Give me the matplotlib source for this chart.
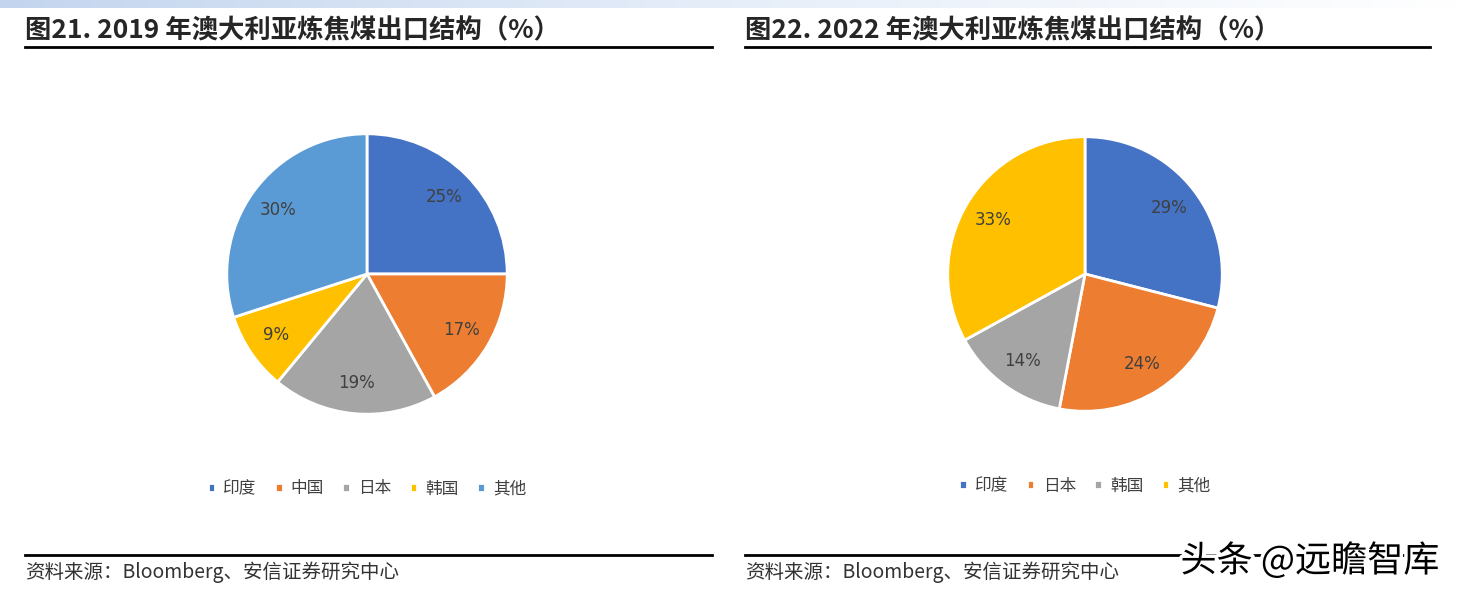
import matplotlib.pyplot as plt
import matplotlib.patheffects as pe
from matplotlib.colors import LinearSegmentedColormap
import numpy as np

plt.rcParams['font.family'] = ['Noto Sans CJK SC', 'DejaVu Sans']

# data
labels_2019 = ['印度', '中国', '日本', '韩国', '其他']
values_2019 = [25, 17, 19, 9, 30]
labels_2022 = ['印度', '日本', '韩国', '其他']
values_2022 = [29, 24, 14, 33]

col_2019 = ['#4472C4', '#ED7D31', '#A5A5A5', '#FFC000', '#5B9BD5']
col_2022 = ['#4472C4', '#ED7D31', '#A5A5A5', '#FFC000']

title_2019 = '图21. 2019 年澳大利亚炼焦煤出口结构（%）'
title_2022 = '图22. 2022 年澳大利亚炼焦煤出口结构（%）'
source = '资料来源：Bloomberg、安信证券研究中心'

W, H = 1462, 598
fig = plt.figure(figsize=(W / 100, H / 100), dpi=100)


def px_axes(x0, y0, w, h):
    # pixel box (top-left origin) -> figure axes
    return fig.add_axes([x0 / W, 1 - (y0 + h) / H, w / W, h / H])


# gradient band on top
bg = fig.add_axes([0, 1 - 8 / H, 1, 8 / H])
grad = np.linspace(0, 1, 256)[None, :]
cm = LinearSegmentedColormap.from_list('band', ['#c3d5ee', '#e6eef9', '#ffffff'])
bg.imshow(grad, aspect='auto', cmap=cm, extent=[0, 1, 0, 1])
bg.axis('off')


def panel(x_left, x_right, cx, cy, r, title, labels, values, colors, leg_y):
    fig.text(x_left / W, 1 - 31 / H, title, fontsize=19, fontweight='bold',
             color='#262626', va='center', ha='left')
    fig.add_artist(plt.Line2D([x_left / W, x_right / W], [1 - 47 / H, 1 - 47 / H],
                              color='black', lw=2))
    fig.add_artist(plt.Line2D([x_left / W, x_right / W], [1 - 555 / H, 1 - 555 / H],
                              color='black', lw=2))
    fig.text(x_left / W, 1 - 572 / H, source, fontsize=14,
             color='#333333', va='center', ha='left')

    ax = px_axes(cx - r, cy - r, 2 * r, 2 * r)
    wedges, texts, autotexts = ax.pie(
        values, colors=colors, startangle=90, counterclock=False,
        autopct='%d%%', pctdistance=0.78,
        wedgeprops=dict(edgecolor='white', linewidth=2),
        textprops=dict(fontsize=12, color='#404040', family='DejaVu Sans'))
    ax.set_xlim(-1.02, 1.02)
    ax.set_ylim(-1.02, 1.02)
    ax.set_aspect('equal')

    leg = fig.legend(wedges, labels, loc='center', ncol=len(labels),
                     bbox_to_anchor=(cx / W, 1 - leg_y / H), frameon=False,
                     fontsize=12, handlelength=0.45, handleheight=0.45,
                     handletextpad=0.5, columnspacing=1.1)
    for t in leg.get_texts():
        t.set_color('#404040')


panel(25, 712, 367, 274, 143, title_2019, labels_2019, values_2019, col_2019, 489)
panel(745, 1430, 1085, 274, 140, title_2022, labels_2022, values_2022, col_2022, 486)

# watermark
fig.text(1310 / W, 1 - 561 / H, '头条 @远瞻智库', fontsize=26, color='black',
         ha='center', va='center',
         path_effects=[pe.withStroke(linewidth=5, foreground='white')])

fig.savefig('out.png', dpi=100)
